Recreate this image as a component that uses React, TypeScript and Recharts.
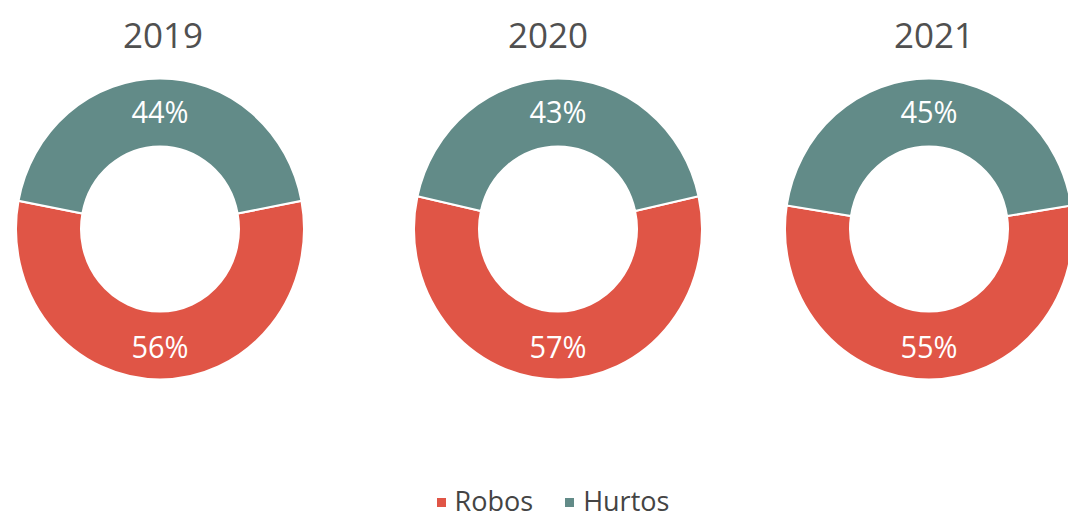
import React from 'react';
import { PieChart, Pie, Cell } from 'recharts';

const years = ['2019', '2020', '2021'];
const seriesNames = ['Robos', 'Hurtos'];
const robos = [56, 57, 55];
const hurtos = [44, 43, 45];
const colors = ['#e05546', '#628b88'];

const W = 1068;
const H = 519;
const centersX = [160, 558, 929];
const titleX = [163, 548, 934];
const CY = 229;
const OUTER = 144;
const INNER = 79;
const RAD = Math.PI / 180;
const FONT = '"Open Sans", "DejaVu Sans", sans-serif';

const renderLabel = (p: any) => {
  const r = (p.innerRadius + p.outerRadius) / 2 + 1;
  const x = p.cx + r * Math.cos(-p.midAngle * RAD);
  const y = p.cy + r * Math.sin(-p.midAngle * RAD);
  return (
    <text
      x={x}
      y={y}
      fill="#ffffff"
      textAnchor="middle"
      dominantBaseline="central"
      fontSize={29}
      fontFamily={FONT}
    >
      {`${p.value}%`}
    </text>
  );
};

export default function App() {
  return (
    <div style={{ position: 'absolute', left: 0, top: 0, width: W, height: H, background: '#fff', fontFamily: FONT }}>
      <div style={{ position: 'absolute', left: 0, top: 0, width: W, height: 440, transform: 'scaleY(1.045)', transformOrigin: `0px ${CY}px` }}>
        <PieChart width={W} height={440} margin={{ top: 0, right: 0, bottom: 0, left: 0 }}>
          {years.map((yr, i) => {
            const data = [
              { name: seriesNames[0], value: robos[i] },
              { name: seriesNames[1], value: hurtos[i] },
            ];
            const total = robos[i] + hurtos[i];
            const start = 270 - (robos[i] / total) * 180;
            return (
              <Pie
                key={yr}
                data={data}
                dataKey="value"
                nameKey="name"
                cx={centersX[i]}
                cy={CY}
                innerRadius={INNER}
                outerRadius={OUTER}
                startAngle={start}
                endAngle={start + 360}
                stroke="#ffffff"
                strokeWidth={2}
                label={renderLabel}
                labelLine={false}
                isAnimationActive={false}
              >
                {data.map((d, j) => (
                  <Cell key={d.name} fill={colors[j]} />
                ))}
              </Pie>
            );
          })}
        </PieChart>
      </div>
      {years.map((yr, i) => (
        <div
          key={yr}
          style={{
            position: 'absolute',
            left: titleX[i] - 80,
            width: 160,
            top: 9,
            textAlign: 'center',
            fontSize: 35,
            lineHeight: '52px',
            color: '#505050',
          }}
        >
          {yr}
        </div>
      ))}
      <div
        style={{
          position: 'absolute',
          left: 0,
          width: W,
          top: 482,
          display: 'flex',
          justifyContent: 'center',
          alignItems: 'center',
          gap: 32,
          fontSize: 27,
          color: '#444',
          paddingLeft: 38,
          boxSizing: 'border-box',
        }}
      >
        {seriesNames.map((n, j) => (
          <div key={n} style={{ display: 'flex', alignItems: 'center' }}>
            <span style={{ width: 9, height: 9, background: colors[j], display: 'inline-block', marginRight: 9, marginTop: 3 }} />
            <span>{n}</span>
          </div>
        ))}
      </div>
    </div>
  );
}
